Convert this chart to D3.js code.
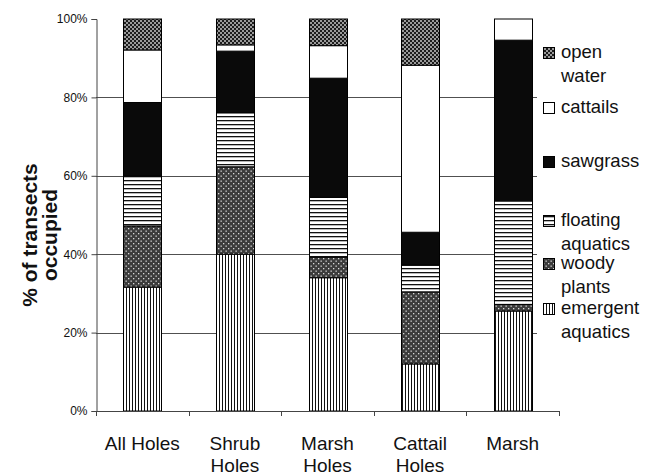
<!DOCTYPE html>
<html>
<head>
<meta charset="utf-8">
<script src="https://cdn.jsdelivr.net/npm/d3@7"></script>
<style>
  html, body { margin: 0; padding: 0; background: #fff; }
  svg { display: block; font-family: "Liberation Sans", Arial, sans-serif; }
</style>
</head>
<body>
<svg id="chart" width="645" height="475"></svg>
<script>
// ---- data ----
const categories = ["All Holes", "Shrub Holes", "Marsh Holes", "Cattail Holes", "Marsh"];
const categoryLines = [["All Holes"], ["Shrub", "Holes"], ["Marsh", "Holes"], ["Cattail", "Holes"], ["Marsh"]];
const seriesNames = ["emergent aquatics", "woody plants", "floating aquatics", "sawgrass", "cattails", "open water"];
const emergentAquatics = [31.6, 40.0, 34.0, 12.0, 25.5];
const woodyPlants      = [15.6, 22.3,  5.2, 18.4,  1.7];
const floatingAquatics = [12.8, 13.8, 15.3,  6.8, 26.4];
const sawgrass         = [18.7, 15.7, 30.4,  8.4, 41.0];
const cattails         = [13.4,  1.6,  8.3, 42.6,  5.4];
const openWater        = [ 7.9,  6.6,  6.8, 11.8,  0.0];
const yTickValues = [0, 20, 40, 60, 80, 100];
const legendLabels = [["open", "water"], ["cattails"], ["sawgrass"], ["floating", "aquatics"], ["woody", "plants"], ["emergent", "aquatics"]];

(function () {
// ---- layout ----
const svg = d3.select("#chart");
const mLeft = 96, mRight = 559, mTop = 19, mBottom = 411;
const seriesValues = [emergentAquatics, woodyPlants, floatingAquatics, sawgrass, cattails, openWater];
const patternIds = ["pEmerg", "pWoody", "pFloat", "pSaw", "pCatt", "pOpen"];

const defs = svg.append("defs");
let p = defs.append("pattern").attr("id", "pEmerg").attr("patternUnits", "userSpaceOnUse").attr("width", 3).attr("height", 3);
p.append("rect").attr("width", 3).attr("height", 3).attr("fill", "#fff");
p.append("rect").attr("x", 0).attr("width", 1).attr("height", 3).attr("fill", "#111");
p = defs.append("pattern").attr("id", "pWoody").attr("patternUnits", "userSpaceOnUse").attr("width", 5).attr("height", 5);
p.append("rect").attr("width", 5).attr("height", 5).attr("fill", "#3c3c3c");
p.append("rect").attr("x", 0.5).attr("y", 0.5).attr("width", 1.3).attr("height", 1.3).attr("fill", "#d8d8d8");
p.append("rect").attr("x", 3).attr("y", 3).attr("width", 1.3).attr("height", 1.3).attr("fill", "#d8d8d8");
p = defs.append("pattern").attr("id", "pFloat").attr("patternUnits", "userSpaceOnUse").attr("width", 4).attr("height", 4);
p.append("rect").attr("width", 4).attr("height", 4).attr("fill", "#fff");
p.append("rect").attr("y", 0).attr("width", 4).attr("height", 1.3).attr("fill", "#111");
p = defs.append("pattern").attr("id", "pSaw").attr("patternUnits", "userSpaceOnUse").attr("width", 4).attr("height", 4);
p.append("rect").attr("width", 4).attr("height", 4).attr("fill", "#0a0a0a");
p = defs.append("pattern").attr("id", "pCatt").attr("patternUnits", "userSpaceOnUse").attr("width", 4).attr("height", 4);
p.append("rect").attr("width", 4).attr("height", 4).attr("fill", "#fff");
p = defs.append("pattern").attr("id", "pOpen").attr("patternUnits", "userSpaceOnUse").attr("width", 4).attr("height", 4);
p.append("rect").attr("width", 4).attr("height", 4).attr("fill", "#1c1c1c");
p.append("rect").attr("x", 0).attr("y", 0).attr("width", 2).attr("height", 2).attr("fill", "#9a9a9a");
p.append("rect").attr("x", 2).attr("y", 2).attr("width", 2).attr("height", 2).attr("fill", "#9a9a9a");

const x = d3.scaleBand().domain(categories).range([mLeft, mRight]).paddingInner(0.59).paddingOuter(0.295);
const y = d3.scaleLinear().domain([0, 100]).range([mBottom, mTop]);

// gridlines
svg.append("g").selectAll("line").data(yTickValues.filter(v => v > 0 && v < 100)).join("line")
  .attr("x1", mLeft).attr("x2", mRight)
  .attr("y1", d => Math.round(y(d)) + 0.5).attr("y2", d => Math.round(y(d)) + 0.5)
  .attr("stroke", "#505050").attr("stroke-width", 1);

const rows = categories.map((c, i) => {
  const r = { cat: c };
  seriesNames.forEach((s, k) => r[s] = seriesValues[k][i]);
  return r;
});
const stack = d3.stack().keys(seriesNames)(rows);

const gBars = svg.append("g");
stack.forEach((layer, k) => {
  gBars.append("g").selectAll("rect").data(layer.filter(d => d[1] - d[0] > 0)).join("rect")
    .attr("x", d => Math.round(x(d.data.cat)) + 0.5)
    .attr("width", Math.round(x.bandwidth()))
    .attr("y", d => y(d[1]))
    .attr("height", d => y(d[0]) - y(d[1]))
    .attr("fill", `url(#${patternIds[k]})`)
    .attr("stroke", "#000").attr("stroke-width", 1);
});

// y axis
const yAxis = d3.axisLeft(y).tickValues(yTickValues).tickFormat(d => d + "%").tickSize(5).tickPadding(4);
const gy = svg.append("g").attr("transform", `translate(${mLeft + 0.5},0)`).call(yAxis);
gy.select(".domain").attr("stroke", "#444");
gy.selectAll(".tick line").attr("stroke", "#444");
gy.selectAll(".tick text").attr("font-size", 12).attr("fill", "#111").attr("font-family", "'Liberation Sans', Arial, sans-serif");

// x axis
svg.append("line").attr("x1", mLeft).attr("x2", mRight).attr("y1", mBottom + 0.5).attr("y2", mBottom + 0.5).attr("stroke", "#444");
const boundaries = d3.range(categories.length + 1).map(i => x.range()[0] + i * x.step());
svg.append("g").selectAll("line").data(boundaries).join("line")
  .attr("x1", d => Math.round(d) + 0.5).attr("x2", d => Math.round(d) + 0.5)
  .attr("y1", mBottom).attr("y2", mBottom + 5).attr("stroke", "#444");

const gx = svg.append("g");
categories.forEach((c, i) => {
  const cx = x(c) + x.bandwidth() / 2;
  const t = gx.append("text").attr("x", cx).attr("y", 450)
    .attr("text-anchor", "middle").attr("font-size", 19).attr("fill", "#111");
  categoryLines[i].forEach((ln, j) => t.append("tspan").attr("x", cx).attr("dy", j === 0 ? 0 : 22).text(ln));
});

// y title
const yt = svg.append("text").attr("transform", "translate(37,235) rotate(-90)")
  .attr("text-anchor", "middle").attr("font-size", 21).attr("font-weight", "bold").attr("fill", "#111");
yt.append("tspan").attr("x", 0).attr("dy", 0).text("% of transects");
yt.append("tspan").attr("x", 0).attr("dy", 20).text("occupied");

// legend
const legendY = [58, 113, 167, 226, 269, 314];
const legendPat = ["pOpen", "pCatt", "pSaw", "pFloat", "pWoody", "pEmerg"];
const gl = svg.append("g");
gl.append("rect").attr("x", 537).attr("y", 30).attr("width", 108).attr("height", 330).attr("fill", "#fff");
legendLabels.forEach((lab, i) => {
  gl.append("rect").attr("x", 543.5).attr("y", legendY[i] - 10.5).attr("width", 11).attr("height", 11)
    .attr("fill", `url(#${legendPat[i]})`).attr("stroke", "#000").attr("stroke-width", 1);
  const t = gl.append("text").attr("x", 561).attr("y", legendY[i]).attr("font-size", 18.5).attr("fill", "#111");
  lab.forEach((ln, j) => t.append("tspan").attr("x", 561).attr("dy", j === 0 ? 0 : 23.5).text(ln));
});
})();
</script>
</body>
</html>
